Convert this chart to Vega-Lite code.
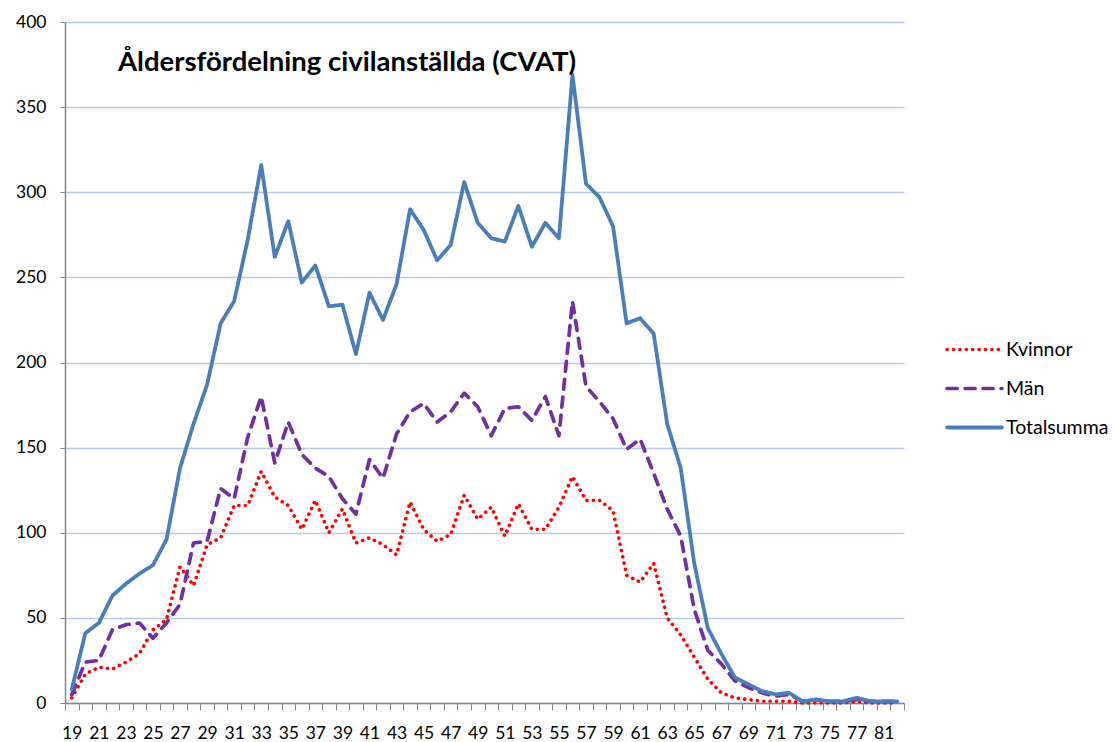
{
  "$schema": "https://vega.github.io/schema/vega-lite/v6.json",
  "width": 839,
  "height": 681,
  "autosize": {"type": "none"},
  "padding": {"left": 65, "top": 22, "right": 210, "bottom": 39},
  "background": "white",
  "title": {
    "text": "Åldersfördelning civilanställda (CVAT)",
    "orient": "top",
    "anchor": "start",
    "frame": "group",
    "offset": 0,
    "dx": 53,
    "dy": 63,
    "font": "Lato",
    "fontSize": 27.5,
    "fontWeight": "bold",
    "color": "#000000"
  },
  "data": {
    "values": [
      {"a": 19, "Kvinnor": 3, "Män": 5, "Totalsumma": 8},
      {"a": 20, "Kvinnor": 17, "Män": 24, "Totalsumma": 41},
      {"a": 21, "Kvinnor": 21, "Män": 25, "Totalsumma": 47},
      {"a": 22, "Kvinnor": 20, "Män": 43, "Totalsumma": 63},
      {"a": 23, "Kvinnor": 24, "Män": 46, "Totalsumma": 70},
      {"a": 24, "Kvinnor": 29, "Män": 47, "Totalsumma": 76},
      {"a": 25, "Kvinnor": 43, "Män": 38, "Totalsumma": 81},
      {"a": 26, "Kvinnor": 49, "Män": 47, "Totalsumma": 96},
      {"a": 27, "Kvinnor": 80, "Män": 58, "Totalsumma": 138},
      {"a": 28, "Kvinnor": 69, "Män": 94, "Totalsumma": 164},
      {"a": 29, "Kvinnor": 93, "Män": 95, "Totalsumma": 187},
      {"a": 30, "Kvinnor": 97, "Män": 126, "Totalsumma": 223},
      {"a": 31, "Kvinnor": 116, "Män": 120, "Totalsumma": 236},
      {"a": 32, "Kvinnor": 116, "Män": 156, "Totalsumma": 272},
      {"a": 33, "Kvinnor": 136, "Män": 180, "Totalsumma": 316},
      {"a": 34, "Kvinnor": 121, "Män": 141, "Totalsumma": 262},
      {"a": 35, "Kvinnor": 116, "Män": 165, "Totalsumma": 283},
      {"a": 36, "Kvinnor": 102, "Män": 146, "Totalsumma": 247},
      {"a": 37, "Kvinnor": 119, "Män": 138, "Totalsumma": 257},
      {"a": 38, "Kvinnor": 100, "Män": 133, "Totalsumma": 233},
      {"a": 39, "Kvinnor": 114, "Män": 120, "Totalsumma": 234},
      {"a": 40, "Kvinnor": 94, "Män": 111, "Totalsumma": 205},
      {"a": 41, "Kvinnor": 97, "Män": 143, "Totalsumma": 241},
      {"a": 42, "Kvinnor": 93, "Män": 132, "Totalsumma": 225},
      {"a": 43, "Kvinnor": 87, "Män": 158, "Totalsumma": 246},
      {"a": 44, "Kvinnor": 118, "Män": 171, "Totalsumma": 290},
      {"a": 45, "Kvinnor": 102, "Män": 176, "Totalsumma": 278},
      {"a": 46, "Kvinnor": 95, "Män": 165, "Totalsumma": 260},
      {"a": 47, "Kvinnor": 99, "Män": 171, "Totalsumma": 269},
      {"a": 48, "Kvinnor": 122, "Män": 182, "Totalsumma": 306},
      {"a": 49, "Kvinnor": 108, "Män": 174, "Totalsumma": 282},
      {"a": 50, "Kvinnor": 115, "Män": 157, "Totalsumma": 273},
      {"a": 51, "Kvinnor": 98, "Män": 173, "Totalsumma": 271},
      {"a": 52, "Kvinnor": 117, "Män": 174, "Totalsumma": 292},
      {"a": 53, "Kvinnor": 102, "Män": 166, "Totalsumma": 268},
      {"a": 54, "Kvinnor": 102, "Män": 180, "Totalsumma": 282},
      {"a": 55, "Kvinnor": 115, "Män": 157, "Totalsumma": 273},
      {"a": 56, "Kvinnor": 133, "Män": 236, "Totalsumma": 369},
      {"a": 57, "Kvinnor": 119, "Män": 186, "Totalsumma": 305},
      {"a": 58, "Kvinnor": 119, "Män": 177, "Totalsumma": 297},
      {"a": 59, "Kvinnor": 113, "Män": 167, "Totalsumma": 280},
      {"a": 60, "Kvinnor": 75, "Män": 149, "Totalsumma": 223},
      {"a": 61, "Kvinnor": 71, "Män": 155, "Totalsumma": 226},
      {"a": 62, "Kvinnor": 82, "Män": 135, "Totalsumma": 217},
      {"a": 63, "Kvinnor": 50, "Män": 114, "Totalsumma": 164},
      {"a": 64, "Kvinnor": 40, "Män": 98, "Totalsumma": 138},
      {"a": 65, "Kvinnor": 27, "Män": 55, "Totalsumma": 82},
      {"a": 66, "Kvinnor": 14, "Män": 31, "Totalsumma": 44},
      {"a": 67, "Kvinnor": 6, "Män": 23, "Totalsumma": 29},
      {"a": 68, "Kvinnor": 3, "Män": 13, "Totalsumma": 15},
      {"a": 69, "Kvinnor": 2, "Män": 9, "Totalsumma": 11},
      {"a": 70, "Kvinnor": 1, "Män": 6, "Totalsumma": 7},
      {"a": 71, "Kvinnor": 1, "Män": 4, "Totalsumma": 5},
      {"a": 72, "Kvinnor": 1, "Män": 5, "Totalsumma": 6},
      {"a": 73, "Kvinnor": 0, "Män": 1, "Totalsumma": 1},
      {"a": 74, "Kvinnor": 0, "Män": 2, "Totalsumma": 2},
      {"a": 75, "Kvinnor": 0, "Män": 1, "Totalsumma": 1},
      {"a": 76, "Kvinnor": 0, "Män": 1, "Totalsumma": 1},
      {"a": 77, "Kvinnor": 1, "Män": 2, "Totalsumma": 3},
      {"a": 79, "Kvinnor": 0, "Män": 1, "Totalsumma": 1},
      {"a": 81, "Kvinnor": 0, "Män": 1, "Totalsumma": 1},
      {"a": 82, "Kvinnor": 0, "Män": 1, "Totalsumma": 1}
    ]
  },
  "transform": [
    {"fold": ["Kvinnor", "Män", "Totalsumma"], "as": ["serie", "antal"]}
  ],
  "mark": {"type": "line", "strokeCap": "round", "strokeJoin": "round"},
  "encoding": {
    "x": {
      "field": "a",
      "type": "ordinal",
      "bandPosition": 0.5,
      "scale": {"type": "band", "paddingInner": 0, "paddingOuter": 0},
      "axis": {
        "title": null,
        "labelAngle": 0,
        "tickBand": "extent",
        "labelExpr": "((datum.value <= 77 && datum.value % 2 == 1) || datum.value == 81) ? datum.label : ''",
        "labelFont": "Lato",
        "labelFontSize": 17.5,
        "labelColor": "#000000",
        "labelPadding": 14,
        "tickSize": 7,
        "tickColor": "#868686",
        "domainColor": "#868686",
        "domainWidth": 1.5,
        "grid": false
      }
    },
    "y": {
      "field": "antal",
      "type": "quantitative",
      "scale": {"domain": [0, 400], "nice": false},
      "axis": {
        "title": null,
        "values": [0, 50, 100, 150, 200, 250, 300, 350, 400],
        "labelFont": "Lato",
        "labelFontSize": 17.5,
        "labelColor": "#000000",
        "labelPadding": 14,
        "tickSize": 5,
        "tickColor": "#868686",
        "domainColor": "#868686",
        "domainWidth": 1.5,
        "grid": true,
        "gridColor": "#b9c9e6",
        "gridWidth": 1.3
      }
    },
    "color": {
      "field": "serie",
      "type": "nominal",
      "scale": {"domain": ["Kvinnor", "Män", "Totalsumma"], "range": ["#ff0000", "#7030a0", "#4a7ebb"]},
      "legend": {
        "title": null,
        "orient": "none",
        "legendX": 880,
        "legendY": 298,
        "symbolType": "stroke",
        "symbolSize": 3000,
        "labelFont": "Lato",
        "labelFontSize": 19.5,
        "labelColor": "#000000",
        "rowPadding": -1,
        "labelOffset": 2,
        "encode": {
          "symbols": {"update": {"strokeCap": {"value": "round"}}}
        }
      }
    },
    "strokeDash": {
      "field": "serie",
      "type": "nominal",
      "scale": {"domain": ["Kvinnor", "Män", "Totalsumma"], "range": [[0.1, 6.3], [10, 8], [1, 0]]}
    },
    "strokeWidth": {
      "field": "serie",
      "type": "nominal",
      "scale": {"domain": ["Kvinnor", "Män", "Totalsumma"], "range": [3.6, 3.8, 4.6]}
    }
  },
  "config": {
    "view": {"stroke": null},
    "font": "Lato"
  }
}
